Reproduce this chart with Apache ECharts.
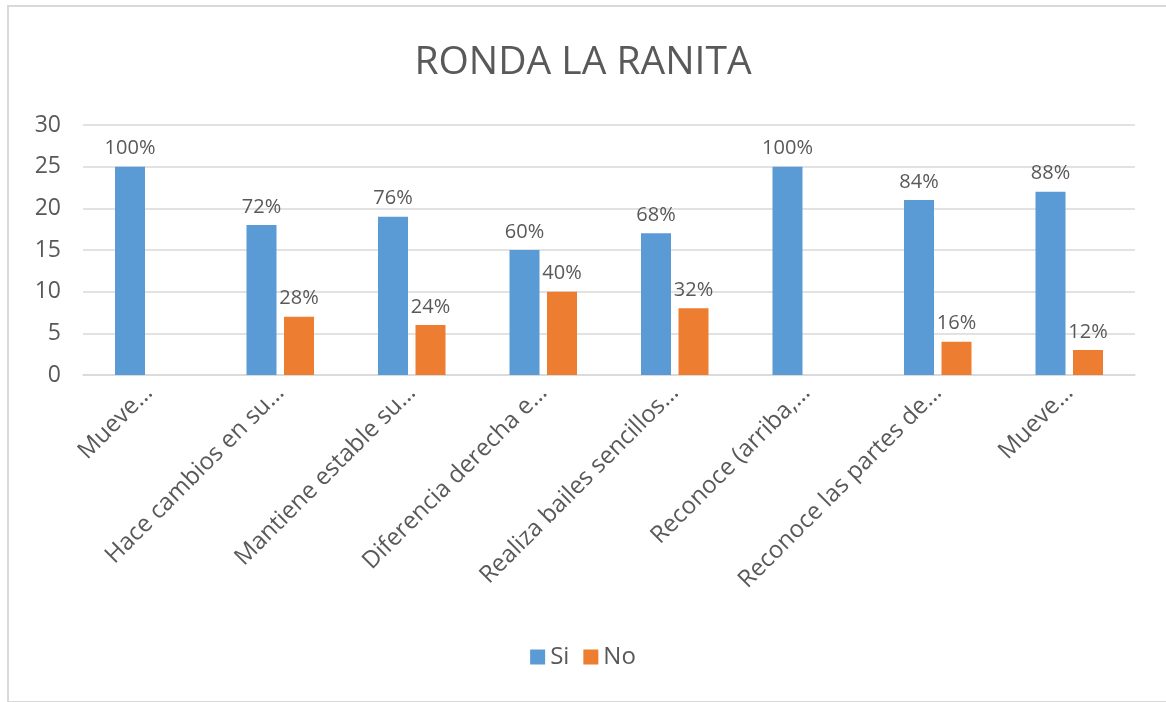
<!DOCTYPE html>
<html>
<head>
<meta charset="utf-8">
<script src="https://cdn.jsdelivr.net/npm/echarts@6/dist/echarts.min.js"></script>
<style>
  html, body { margin: 0; padding: 0; background: #fff; }
  #frame { position: absolute; left: 7px; top: 5px; width: 1170px; height: 694px; border: 2px solid #d9d9d9; }
  #chart { position: absolute; left: 0; top: 0; width: 1166px; height: 702px; }
</style>
</head>
<body>
<div id="frame"></div>
<div id="chart"></div>
<script>
const categories = ['Mueve…', 'Hace cambios en su…', 'Mantiene estable su…', 'Diferencia derecha e…',
  'Realiza bailes sencillos…', 'Reconoce (arriba,…', 'Reconoce las partes de…', 'Mueve…']
const siValues = [25, 18, 19, 15, 17, 25, 21, 22]
const noValues = [0, 7, 6, 10, 8, 0, 4, 3]
const siPercent = ['100%', '72%', '76%', '60%', '68%', '100%', '84%', '88%']
const noPercent = ['', '28%', '24%', '40%', '32%', '', '16%', '12%']

const textColor = '#595959'
const font = 'Open Sans'

const chart = echarts.init(document.getElementById('chart'))

function labelFrom(list) {
  return {
    show: true,
    position: 'top',
    distance: 8,
    color: textColor,
    fontFamily: font,
    fontSize: 20,
    formatter: p => list[p.dataIndex]
  }
}

chart.setOption({
  animation: false,
  title: {
    text: 'RONDA LA RANITA',
    left: 'center',
    top: 38,
    textStyle: { color: textColor, fontFamily: font, fontSize: 39, fontWeight: 'normal' }
  },
  legend: {
    data: ['Si', 'No'],
    bottom: 28,
    left: 'center',
    itemWidth: 15,
    itemHeight: 15,
    itemGap: 14,
    icon: 'rect',
    textStyle: { color: textColor, fontFamily: font, fontSize: 24 }
  },
  grid: {
    left: 83,
    right: 31,
    top: 125,
    bottom: 327
  },
  xAxis: {
    type: 'category',
    data: categories,
    axisLine: { lineStyle: { color: '#d9d9d9', width: 1.5 } },
    axisTick: { show: false },
    axisLabel: {
      interval: 0,
      rotate: 45,
      margin: 14,
      color: textColor,
      fontFamily: font,
      fontSize: 24
    }
  },
  yAxis: {
    type: 'value',
    min: 0,
    max: 30,
    interval: 5,
    axisLine: { show: false },
    axisTick: { show: false },
    splitLine: { lineStyle: { color: '#d9d9d9', width: 1.5 } },
    axisLabel: { color: textColor, fontFamily: font, fontSize: 23, margin: 22 }
  },
  series: [
    {
      name: 'Si',
      type: 'bar',
      data: siValues,
      barWidth: 30,
      barGap: '25%',
      itemStyle: { color: '#5b9bd5' },
      label: labelFrom(siPercent)
    },
    {
      name: 'No',
      type: 'bar',
      data: noValues,
      barWidth: 30,
      itemStyle: { color: '#ed7d31' },
      label: labelFrom(noPercent)
    }
  ]
})
</script>
</body>
</html>
